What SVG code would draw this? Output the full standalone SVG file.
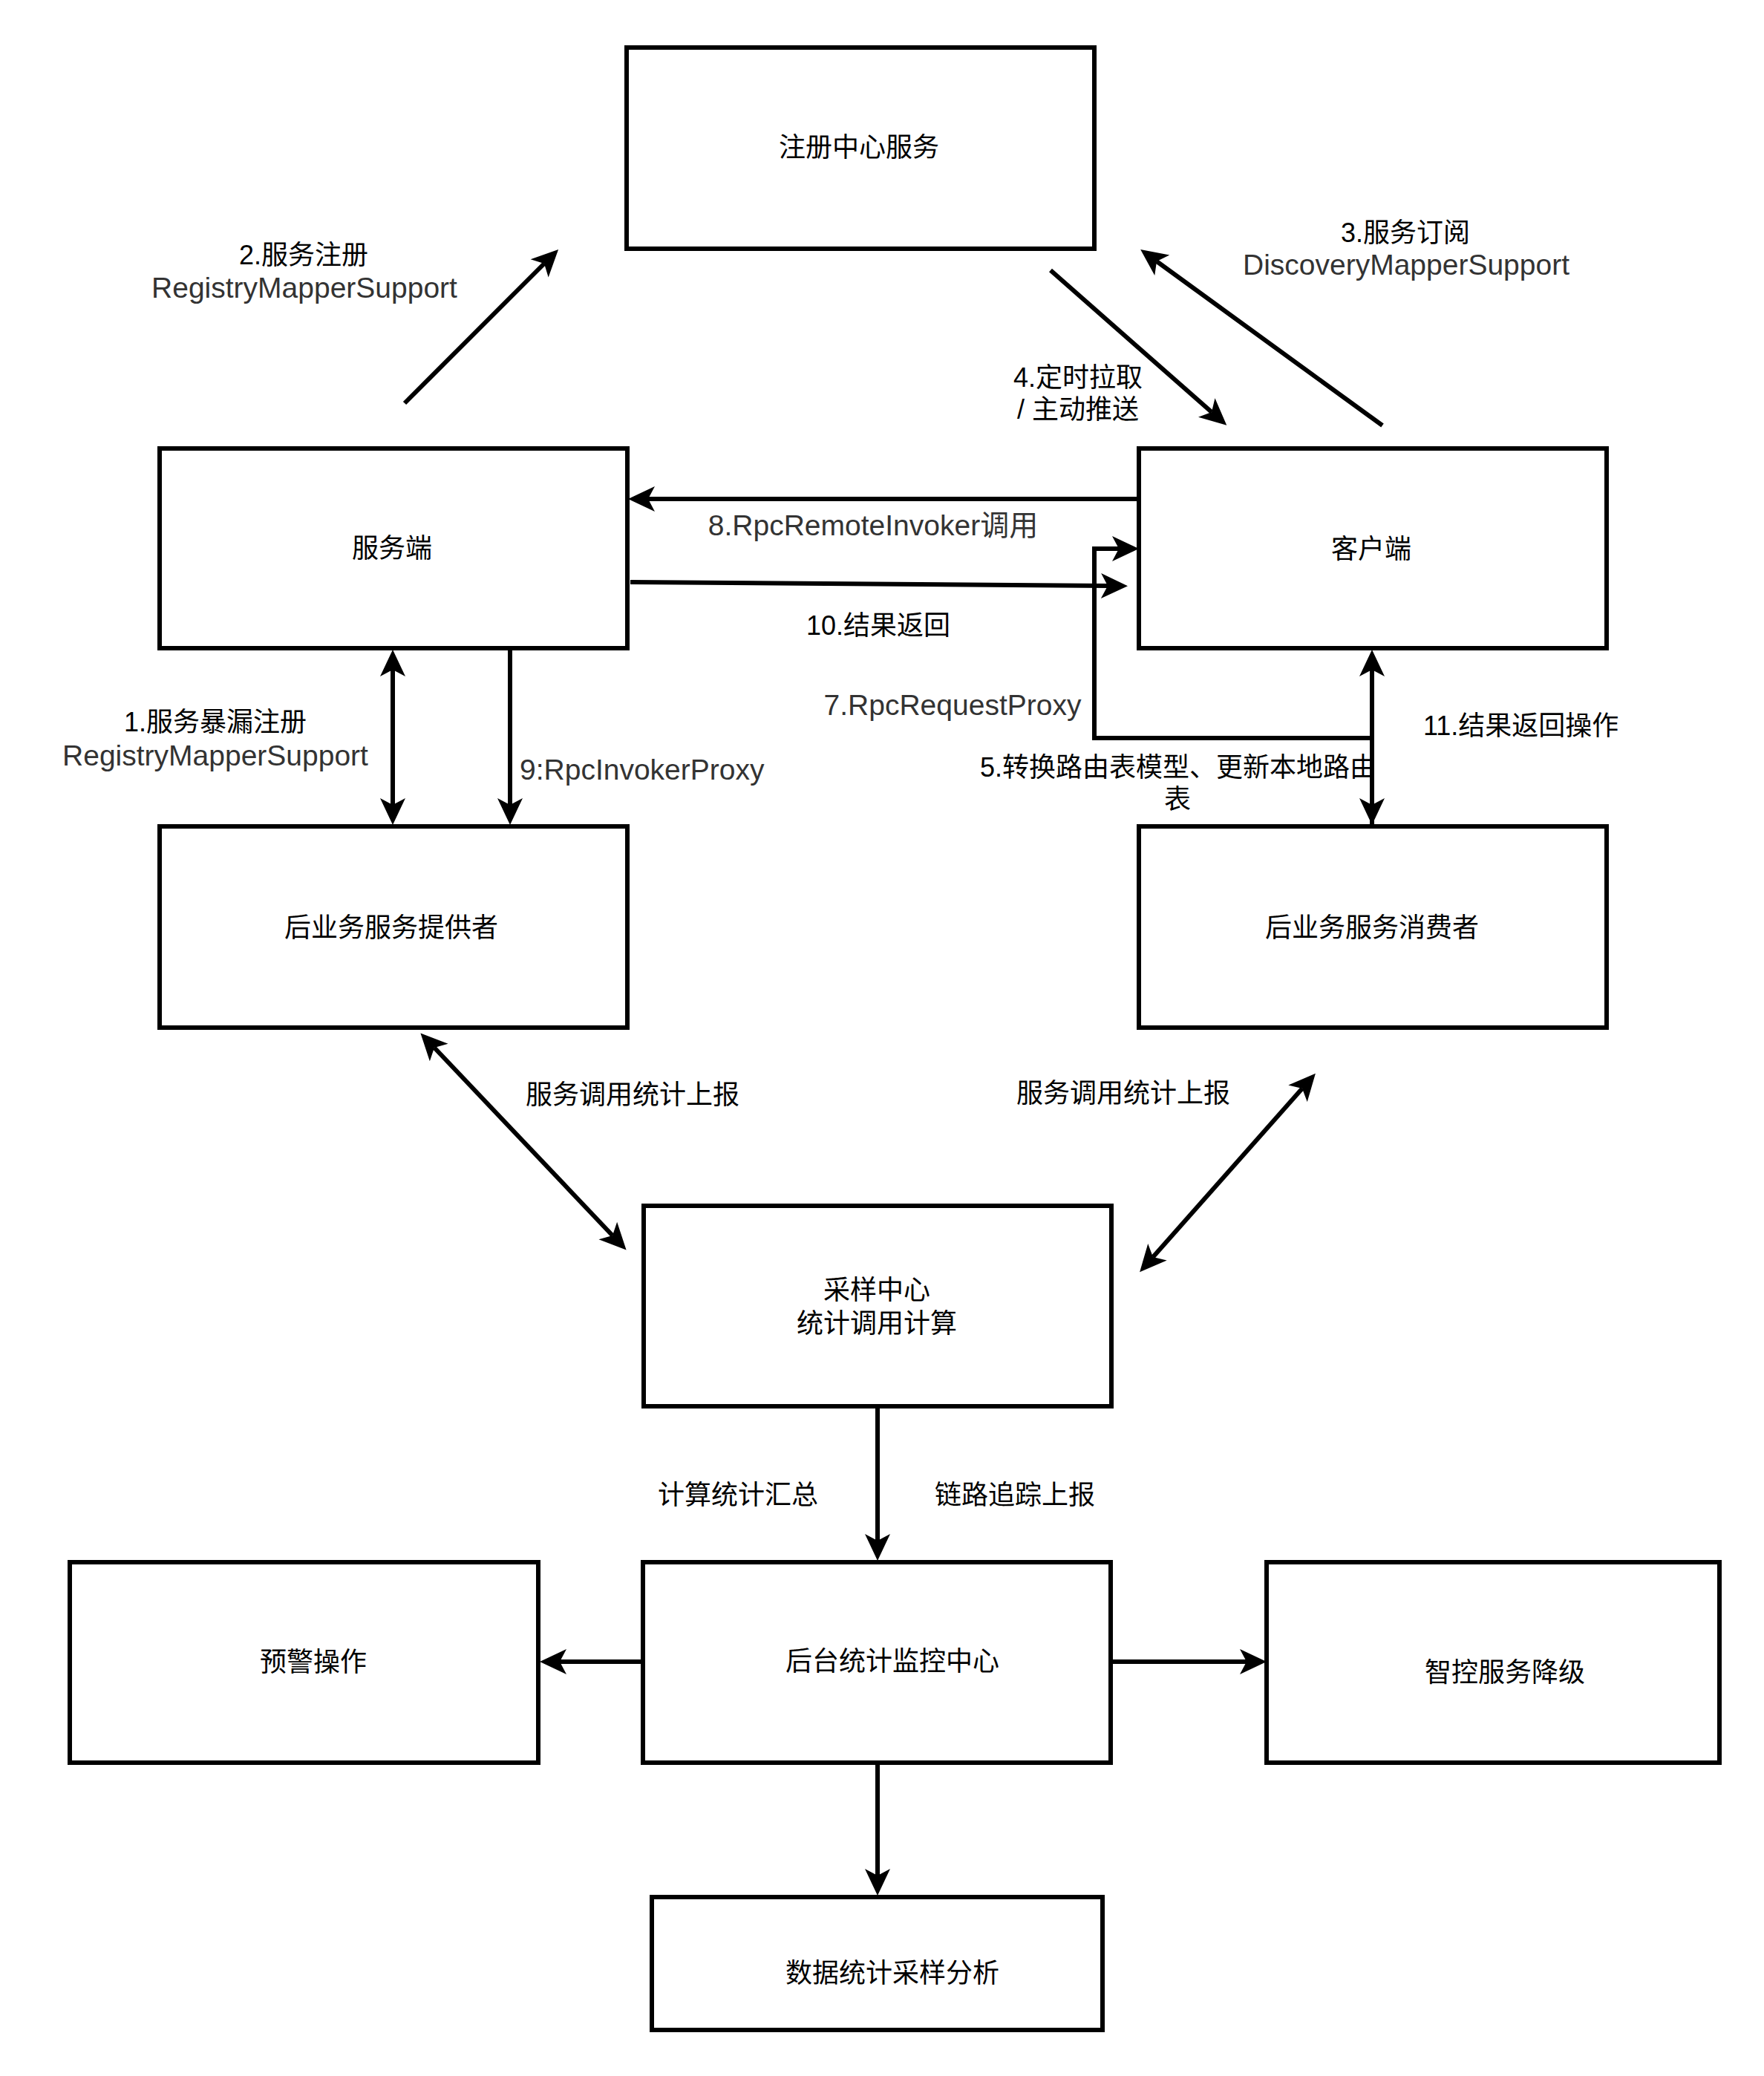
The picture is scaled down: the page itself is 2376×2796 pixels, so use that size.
<svg xmlns="http://www.w3.org/2000/svg" width="2376" height="2796" viewBox="0 0 2376 2796">
<style>
.box{fill:#fff;stroke:#000;stroke-width:6}
.ln{fill:none;stroke:#000;stroke-width:6;stroke-linejoin:miter}
.t{font-family:'Liberation Sans','Noto Sans CJK SC',sans-serif;font-size:36px;fill:#000;text-anchor:middle}
.g{font-family:'Liberation Sans','Noto Sans CJK SC',sans-serif;font-size:39px;fill:#333;text-anchor:middle}
.s{text-anchor:start}
</style>
<defs>
<marker id="ah" markerUnits="userSpaceOnUse" viewBox="-10 -18 38 36" refX="0" refY="0" markerWidth="38" markerHeight="36" orient="auto-start-reverse" overflow="visible">
<path d="M27,0 L-9,-17 L0,0 L-9,17 Z" fill="#000"/>
</marker>
</defs>
<rect width="2376" height="2796" fill="#fff"/>
<g id="connectors">
<path class="ln" d="M545,543 L733,355" marker-end="url(#ah)"/>
<path class="ln" d="M1862,573 L1558,352" marker-end="url(#ah)"/>
<path class="ln" d="M1415,364 L1632,555" marker-end="url(#ah)"/>
<path class="ln" d="M1534,672 L873,672" marker-end="url(#ah)"/>
<path class="ln" d="M849,784 L1492,789" marker-end="url(#ah)"/>
<path class="ln" d="M1848,1113 L1848,994 L1474,994 L1474,739 L1507,739" marker-end="url(#ah)"/>
<path class="ln" d="M1848,902 L1848,1084" marker-start="url(#ah)" marker-end="url(#ah)"/>
<path class="ln" d="M529,902 L529,1084" marker-start="url(#ah)" marker-end="url(#ah)"/>
<path class="ln" d="M687,873 L687,1084" marker-end="url(#ah)"/>
<path class="ln" d="M585,1411 L825,1664" marker-start="url(#ah)" marker-end="url(#ah)"/>
<path class="ln" d="M1754,1466 L1553,1693" marker-start="url(#ah)" marker-end="url(#ah)"/>
<path class="ln" d="M1182,1894 L1182,2075" marker-end="url(#ah)"/>
<path class="ln" d="M866,2238 L754,2238" marker-end="url(#ah)"/>
<path class="ln" d="M1496,2238 L1679,2238" marker-end="url(#ah)"/>
<path class="ln" d="M1182,2374 L1182,2526" marker-end="url(#ah)"/>
</g>
<g id="registry"><rect class="box" x="844" y="64" width="630" height="271"/><text class="t" x="1157" y="211">注册中心服务</text></g>
<g id="server"><rect class="box" x="215" y="604" width="630" height="269"/><text class="t" x="528" y="751">服务端</text></g>
<g id="client"><rect class="box" x="1534" y="604" width="630" height="269"/><text class="t" x="1847" y="752">客户端</text></g>
<g id="provider"><rect class="box" x="215" y="1113" width="630" height="271"/><text class="t" x="527" y="1262">后业务服务提供者</text></g>
<g id="consumer"><rect class="box" x="1534" y="1113" width="630" height="271"/><text class="t" x="1848" y="1262">后业务服务消费者</text></g>
<g id="sampling"><rect class="box" x="867" y="1624" width="630" height="270"/><text class="t" x="1181" y="1750">采样中心</text><text class="t" x="1181" y="1795">统计调用计算</text></g>
<g id="warning"><rect class="box" x="94" y="2104" width="631" height="270"/><text class="t" x="422" y="2251">预警操作</text></g>
<g id="monitor"><rect class="box" x="866" y="2104" width="630" height="270"/><text class="t" x="1202" y="2250">后台统计监控中心</text></g>
<g id="degrade"><rect class="box" x="1706" y="2104" width="610" height="270"/><text class="t" x="2027" y="2265">智控服务降级</text></g>
<g id="analysis"><rect class="box" x="878" y="2555" width="607" height="179"/><text class="t" x="1202" y="2670">数据统计采样分析</text></g>
<g id="labels">
<text class="t" x="409" y="356">2.服务注册</text>
<text class="g" x="410" y="401">RegistryMapperSupport</text>
<text class="t" x="1893" y="326">3.服务订阅</text>
<text class="g" x="1894" y="370">DiscoveryMapperSupport</text>
<text class="t" x="1452" y="521">4.定时拉取</text>
<text class="t" x="1452" y="564">/ 主动推送</text>
<text class="g" x="1176" y="721">8.RpcRemoteInvoker调用</text>
<text class="t" x="1183" y="855">10.结果返回</text>
<text class="g" x="1283" y="963">7.RpcRequestProxy</text>
<text class="t" x="1587" y="1046">5.转换路由表模型、更新本地路由</text>
<text class="t" x="1586" y="1089">表</text>
<text class="t" x="290" y="985">1.服务暴漏注册</text>
<text class="g" x="290" y="1031">RegistryMapperSupport</text>
<text class="g s" x="700" y="1050">9:RpcInvokerProxy</text>
<text class="t s" x="1917" y="990">11.结果返回操作</text>
<text class="t" x="852" y="1487">服务调用统计上报</text>
<text class="t" x="1513" y="1485">服务调用统计上报</text>
<text class="t" x="994" y="2026">计算统计汇总</text>
<text class="t" x="1367" y="2026">链路追踪上报</text>
</g>
</svg>
